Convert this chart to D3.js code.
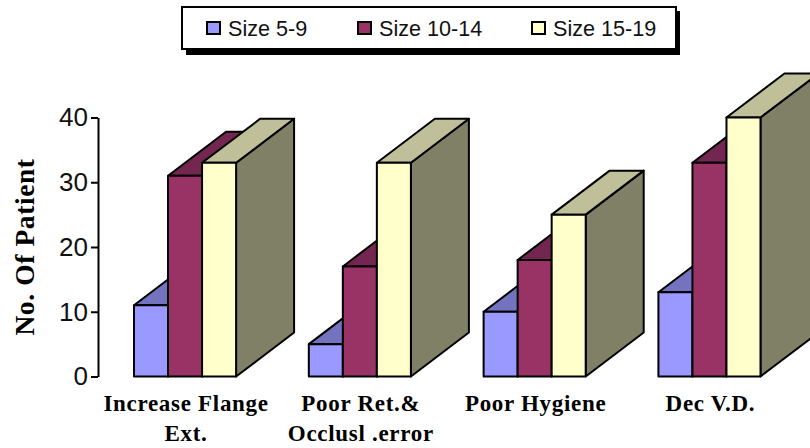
<!DOCTYPE html>
<html>
<head>
<meta charset="utf-8">
<script src="https://cdn.jsdelivr.net/npm/d3@7"></script>
<style>
  html, body { margin: 0; padding: 0; background: #fff; overflow: hidden; }
  svg { display: block; }
  .cat { font-family: "Liberation Serif", serif; font-weight: bold; font-size: 23px; letter-spacing: 0.7px; text-anchor: middle; }
  .tick text { font-family: "Liberation Sans", sans-serif; font-size: 26px; fill: #111; }
  .legend-label { font-family: "Liberation Sans", sans-serif; font-size: 21.6px; fill: #111; }
</style>
</head>
<body>
<div id="chart"></div>
<script>
const width = 810;
const height = 448;

const categories = ['Increase Flange|Ext.', 'Poor Ret.&|Occlusl .error', 'Poor Hygiene', 'Dec V.D.'];
const seriesNames = ['Size 5-9', 'Size 10-14', 'Size 15-19'];
const size5to9 = [11, 5, 10, 13];
const size10to14 = [31, 17, 18, 33];
const size15to19 = [33, 33, 25, 40];
const yTicks = [0, 10, 20, 30, 40];

const allSeries = [size5to9, size10to14, size15to19];
const frontColors = ['#9999ff', '#993366', '#ffffcc'];
const topColors = ['#7373bf', '#732650', '#bfbf99'];
const sideColors = ['#4d4d80', '#4d1a33', '#808066'];

// depth of the fake 3d extrusion
const depthX = 58;
const depthY = -44;

const svg = d3.select('#chart').append('svg').attr('width', width).attr('height', height);

const y = d3.scaleLinear().domain([0, 40]).range([376.5, 117.5]);
const x0 = d3.scaleBand().domain(categories).range([134, 760.5]).paddingInner(0.416).paddingOuter(0);
const x1 = d3.scaleBand().domain(seriesNames).range([0, x0.bandwidth()]);

const bars = [];
categories.forEach((c, i) => {
  seriesNames.forEach((s, j) => {
    bars.push({ cat: c, series: s, idx: j, value: allSeries[j][i] });
  });
});

const g = svg.append('g');

// painter's order, left to right so the next bar hides the side of the previous
const bar = g.selectAll('g.bar').data(bars).enter().append('g').attr('class', 'bar')
  .attr('stroke', '#000').attr('stroke-width', 2).attr('stroke-linejoin', 'round');

function poly(points) {
  return points.map((p) => p.join(',')).join(' ');
}

bar.append('polygon')
  .attr('fill', (d) => sideColors[d.idx])
  .attr('points', (d) => {
    const r = x0(d.cat) + x1(d.series) + x1.bandwidth();
    return poly([[r, y(d.value)], [r + depthX, y(d.value) + depthY], [r + depthX, y(0) + depthY], [r, y(0)]]);
  });

bar.append('polygon')
  .attr('fill', (d) => topColors[d.idx])
  .attr('points', (d) => {
    const l = x0(d.cat) + x1(d.series);
    const r = l + x1.bandwidth();
    return poly([[l, y(d.value)], [l + depthX, y(d.value) + depthY], [r + depthX, y(d.value) + depthY], [r, y(d.value)]]);
  });

bar.append('rect')
  .attr('fill', (d) => frontColors[d.idx])
  .attr('x', (d) => x0(d.cat) + x1(d.series))
  .attr('y', (d) => y(d.value))
  .attr('width', x1.bandwidth())
  .attr('height', (d) => y(0) - y(d.value));

// y axis
const yAxis = d3.axisLeft(y).tickValues(yTicks).tickSize(7).tickSizeOuter(0).tickPadding(3);
const axisG = svg.append('g').attr('transform', 'translate(98,0)').call(yAxis);
axisG.selectAll('path, line').attr('stroke', '#000').attr('stroke-width', 2);

svg.append('text')
  .attr('transform', 'translate(34,247) rotate(-90)')
  .attr('text-anchor', 'middle')
  .attr('font-family', '"Liberation Serif", serif')
  .attr('font-weight', 'bold')
  .attr('font-size', 27.5)
  .attr('letter-spacing', 0.6)
  .text('No. Of Patient');

// category labels, split on |
categories.forEach((c) => {
  c.split('|').forEach((line, k) => {
    svg.append('text')
      .attr('class', 'cat')
      .attr('x', x0(c) + x0.bandwidth() / 2 + 1)
      .attr('y', 411 + k * 30)
      .text(line);
  });
});

// legend
const legendX = [207, 358, 532];
svg.append('rect').attr('x', 186).attr('y', 11).attr('width', 494).attr('height', 44).attr('fill', '#000');
svg.append('rect').attr('x', 182).attr('y', 7).attr('width', 494).attr('height', 42)
  .attr('fill', '#fff').attr('stroke', '#000').attr('stroke-width', 2);

seriesNames.forEach((s, i) => {
  svg.append('rect').attr('x', legendX[i]).attr('y', 22).attr('width', 13).attr('height', 12)
    .attr('fill', frontColors[i]).attr('stroke', '#000').attr('stroke-width', 2);
  svg.append('text').attr('class', 'legend-label').attr('x', legendX[i] + 21).attr('y', 36).text(s);
});
</script>
</body>
</html>
